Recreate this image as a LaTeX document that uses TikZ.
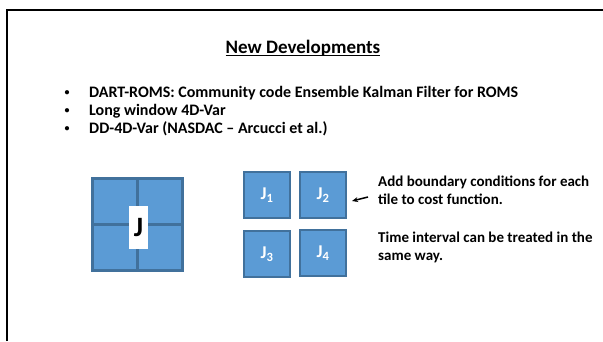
\documentclass[tikz,border=0pt]{standalone}
\usepackage{fontspec}
\setmainfont{Carlito}
\usetikzlibrary{arrows.meta}
\definecolor{tileFill}{HTML}{5B9BD5}
\definecolor{tileBorder}{HTML}{41719C}
\definecolor{slideText}{HTML}{000000}

\begin{document}
\begin{tikzpicture}[
  x=1pt, y=-1pt,
  font=\bfseries,
  heading/.style={
    anchor=base,
    inner sep=0pt,
    text=slideText,
    font=\bfseries\fontsize{19}{23}\selectfont
  },
  item/.style={
    anchor=base west,
    inner sep=0pt,
    text=slideText,
    font=\bfseries\fontsize{16}{19}\selectfont
  },
  dot/.style={
    anchor=base,
    inner sep=0pt,
    font=\bfseries\fontsize{10}{12}\selectfont
  },
  note/.style={
    anchor=base west,
    align=left,
    inner sep=0pt,
    text=slideText,
    font=\bfseries\fontsize{15}{18}\selectfont
  },
  bigtile/.style={
    rectangle,
    fill=tileFill,
    draw=tileBorder,
    line width=3pt,
    minimum width=45pt,
    minimum height=46pt,
    inner sep=0pt
  },
  tile/.style={
    rectangle,
    fill=tileFill,
    draw=tileBorder,
    line width=2pt,
    minimum width=46pt,
    minimum height=46pt,
    inner sep=0pt,
    text=white,
    font=\bfseries\fontsize{18}{20}\selectfont
  },
  jbox/.style={
    rectangle,
    fill=white,
    minimum width=19pt,
    minimum height=43pt,
    inner sep=0pt,
    font=\bfseries\fontsize{28}{30}\selectfont
  },
  arrNote/.style={-{Stealth[length=6pt, width=5pt]}, line width=1.5pt}
]
  \useasboundingbox (0,0) rectangle (603,341);

  % slide frame
  \draw[line width=2pt] (7,341) -- (7,10) -- (603,10);

  \node[heading] (title) at (303,53) {New Developments};
  \draw[line width=1.5pt] ([yshift=-2.5pt]title.base west) -- ([yshift=-2.5pt]title.base east);

  \foreach \txt [count=\i] in {{DART-ROMS: Community code Ensemble Kalman Filter for ROMS},
                               {Long window 4D-Var},
                               {DD-4D-Var (NASDAC – Arcucci et al.)}} {
    \node[item] (item\i) at (89,79+18*\i) {\txt};
    \node[dot] (dot\i) at ([xshift=-22pt,yshift=1.5pt]item\i.base west) {•};
  }

  % whole domain
  \node[bigtile] (Q1) at (115,201.5) {};
  \node[bigtile] (Q2) at (160,201.5) {};
  \node[bigtile] (Q3) at (115,247.5) {};
  \node[bigtile] (Q4) at (160,247.5) {};
  \node[jbox] (J) at (138.5,227.5) {J};

  % tiles
  \node[tile] (J1) at (267,195) {J\textsubscript{1}};
  \node[tile] (J2) at (323,195) {J\textsubscript{2}};
  \node[tile] (J3) at (267,254) {J\textsubscript{3}};
  \node[tile] (J4) at (323,253) {J\textsubscript{4}};

  \node[note] (note1) at (378,204) {Add boundary conditions for each\\tile to cost function.};
  \node[note] (note2) at (378,260) {Time interval can be treated in the\\same way.};

  \draw[arrNote] ([xshift=-10pt,yshift=7pt]note1.base west) -- ([xshift=5pt,yshift=-6pt]J2.east);

\end{tikzpicture}
\end{document}
